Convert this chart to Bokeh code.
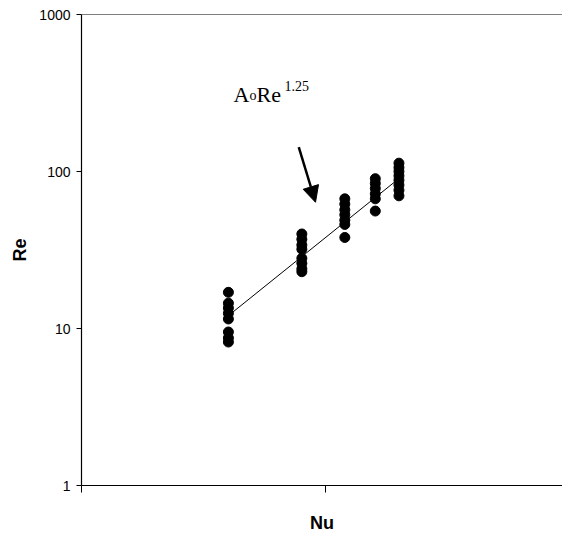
from bokeh.plotting import figure
from bokeh.models import FixedTicker, Label, Arrow, NormalHead, Range1d, Span
from bokeh.embed import file_html
from bokeh.resources import INLINE

# Nusselt groups and the Reynolds values measured in each group
nu_groups = [40, 80, 120, 160, 200]
re_values = [
    [17.0, 14.5, 13.5, 12.5, 11.5, 9.5, 8.7, 8.2],
    [40.0, 37.0, 34.0, 32.0, 28.0, 26.0, 24.0, 23.0],
    [67.0, 62.0, 57.0, 53.0, 49.0, 46.0, 38.0],
    [90.0, 84.0, 78.0, 72.0, 67.0, 56.0],
    [113.0, 106.0, 100.0, 94.0, 88.0, 82.0, 76.0, 70.0],
]

# power-law fit  A_o * Re^1.25
fit_coeff = 0.12
fit_exponent = 1.25
fit_nu = [40, 200]

y_ticks = [1, 10, 100, 1000]
x_ticks = [10, 100, 1000]

sans = "Liberation Sans"

p = figure(
    width=562, height=547,
    x_axis_type="log", y_axis_type="log",
    x_range=Range1d(10, 10 ** (1 + 481 / 244)),
    y_range=Range1d(1, 1000),
    output_backend="svg", toolbar_location=None,
    min_border_left=81, min_border_right=0,
    min_border_top=14, min_border_bottom=62,
)
p.outline_line_color = None
p.grid.visible = False
p.background_fill_color = "white"
p.border_fill_color = "white"

# y axis
ya = p.yaxis[0]
ya.ticker = FixedTicker(ticks=y_ticks, minor_ticks=[])
ya.major_label_overrides = {1: "1", 10: "10", 100: "100", 1000: "1000"}
ya.major_tick_in = 0
ya.major_tick_out = 5
ya.major_label_standoff = 6
ya.axis_line_color = "black"
ya.axis_line_width = 1.2
ya.major_tick_line_color = "black"
ya.minor_tick_line_color = None
ya.major_label_text_font = sans
ya.major_label_text_font_size = "14px"
ya.major_label_text_color = "black"
ya.axis_label = "Re"
ya.axis_label_text_font = sans
ya.axis_label_text_font_style = "bold"
ya.axis_label_text_font_size = "18px"
ya.axis_label_text_color = "black"
ya.axis_label_standoff = 6

# x axis
xa = p.xaxis[0]
xa.ticker = FixedTicker(ticks=x_ticks, minor_ticks=[])
xa.major_label_text_color = None
xa.major_label_text_font_size = "1px"
xa.major_tick_in = 0
xa.major_tick_out = 7
xa.axis_line_color = "black"
xa.axis_line_width = 1.2
xa.major_tick_line_color = "black"
xa.minor_tick_line_color = None
xa.axis_label = "Nu"
xa.axis_label_text_font = sans
xa.axis_label_text_font_style = "bold"
xa.axis_label_text_font_size = "18px"
xa.axis_label_text_color = "black"
xa.axis_label_standoff = 20

# plain top border line
p.add_layout(Span(location=1000, dimension="width", line_color="black", line_width=1.2))

# measured points
xs, ys = [], []
for nu, vals in zip(nu_groups, re_values):
    for v in vals:
        xs.append(nu)
        ys.append(v)
p.scatter(xs, ys, marker="circle", size=10, fill_color="black", line_color="black")

# fitted line
fit_re = [fit_coeff * n ** fit_exponent for n in fit_nu]
p.line(fit_nu, fit_re, line_color="black", line_width=1)

# arrow pointing at the fit
p.add_layout(Arrow(
    end=NormalHead(size=16, fill_color="black", line_color="black"),
    x_start=77.7, y_start=142.8, x_end=91.0, y_end=63.7,
    line_color="black", line_width=2.5,
))

# label  A_o Re^1.25
serif = "Liberation Serif"
lx, ly = 42, 310
for txt, dx, dy, size in [("A", 0, 0, "22px"), ("o", 16, -1, "14px"),
                          ("Re", 23, 0, "22px"), ("1.25", 51, 8, "14px")]:
    p.add_layout(Label(x=lx, y=ly, x_offset=dx, y_offset=dy, text=txt,
                       text_font=serif, text_font_size=size,
                       text_color="black", text_baseline="alphabetic"))

open("out.html", "w").write(file_html(p, INLINE))
